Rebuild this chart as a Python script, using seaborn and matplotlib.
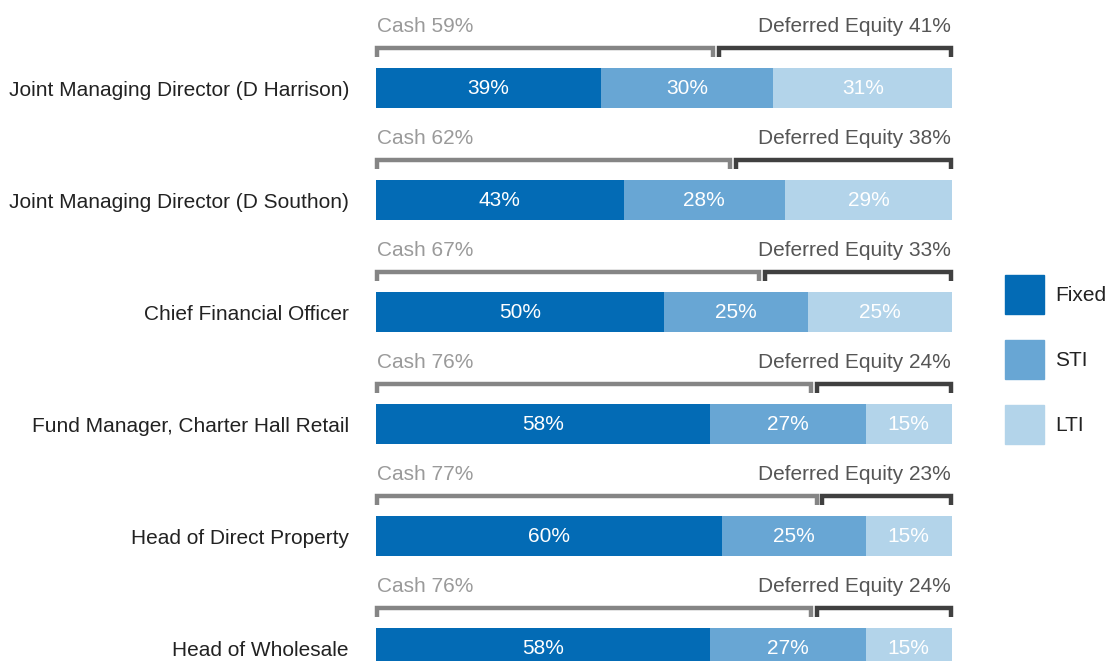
import pandas as pd
import matplotlib.pyplot as plt
import seaborn as sns
from matplotlib.patches import Patch

# Data
roles = ['Joint Managing Director (D Harrison)', 'Joint Managing Director (D Southon)',
         'Chief Financial Officer', 'Fund Manager, Charter Hall Retail',
         'Head of Direct Property', 'Head of Wholesale']
fixed = [39, 43, 50, 58, 60, 58]
sti = [30, 28, 25, 27, 25, 27]
lti = [31, 29, 25, 15, 15, 15]
cash = [59, 62, 67, 76, 77, 76]
deferred = [41, 38, 33, 24, 23, 24]

c_fixed = '#036bb5'
c_sti = '#68a6d4'
c_lti = '#b3d4ea'

df = pd.DataFrame({'role': roles, 'Fixed': fixed, 'STI': sti, 'LTI': lti})
df['fs'] = df['Fixed'] + df['STI']
df['total'] = df['fs'] + df['LTI']

sns.set_theme(style='white')
plt.rcParams['font.family'] = ['Liberation Sans', 'DejaVu Sans']
fs_txt = 15

fig = plt.figure(figsize=(11.09, 6.61), dpi=100)
ax = fig.add_axes([376 / 1109, 0, 576 / 1109, 1])

w = 0.36
# stacked bars: draw cumulative layers back to front
for col, c in [('total', c_lti), ('fs', c_sti), ('Fixed', c_fixed)]:
    sns.barplot(data=df, x=col, y='role', color=c, width=w, orient='h', ax=ax,
                saturation=1, linewidth=0, errorbar=None)

ax.set_xlim(0, 100)
ax.set_ylim(5.116, -0.786)
ax.set_xlabel('')
ax.set_ylabel('')
ax.set_xticks([])
ax.tick_params(axis='y', length=0, pad=19.5, labelsize=fs_txt, labelcolor='#222222')
sns.despine(ax=ax, left=True, bottom=True)

for i in range(len(roles)):
    # segment labels
    starts = [0, fixed[i], fixed[i] + sti[i]]
    for s, v in zip(starts, [fixed[i], sti[i], lti[i]]):
        ax.text(s + v / 2, i, f'{v}%', ha='center', va='center', color='white',
                fontsize=fs_txt)
    # brackets
    yb = i - 0.36
    yt = i - 0.28
    ax.plot([0.2, 0.2, cash[i] - 0.5, cash[i] - 0.5], [yt, yb, yb, yt],
            color='#858585', lw=3.2, solid_capstyle='butt', solid_joinstyle='miter', clip_on=False)
    ax.plot([cash[i] + 0.5, cash[i] + 0.5, 99.8, 99.8], [yt, yb, yb, yt],
            color='#404040', lw=3.2, solid_capstyle='butt', solid_joinstyle='miter', clip_on=False)
    ax.text(0.2, i - 0.55, f'Cash {cash[i]}%', ha='left', va='center', color='#9a9a9a',
            fontsize=fs_txt)
    ax.text(99.8, i - 0.55, f'Deferred Equity {deferred[i]}%', ha='right', va='center',
            color='#555555', fontsize=fs_txt)

handles = [Patch(color=c_fixed, label='Fixed'), Patch(color=c_sti, label='STI'),
           Patch(color=c_lti, label='LTI')]
fig.legend(handles=handles, loc='upper left', bbox_to_anchor=(1005 / 1109, 1 - 275 / 661),
           frameon=False, fontsize=fs_txt, handlelength=1.85, handleheight=2.5,
           labelspacing=1.25, handletextpad=0.55, borderpad=0, borderaxespad=0,
           labelcolor='#222222')

fig.savefig('out.png', dpi=100)
